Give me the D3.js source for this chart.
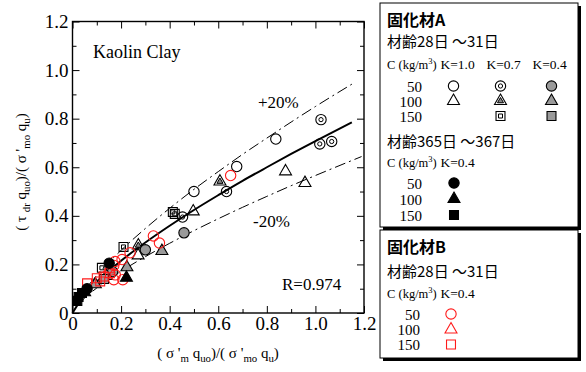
<!DOCTYPE html>
<html><head><meta charset="utf-8">
<script src="https://cdn.jsdelivr.net/npm/d3@7"></script>
<style>body{margin:0;background:#fff}svg{display:block}</style>
</head><body>
<svg id="chart" width="586" height="372"></svg>
<script>
// Normalised data: x = (σ'm quo)/(σ'mo qu), y = (τdr quo)/(σ'mo qu)
// 固化材A, 材齢28〜31日
const aK10c50  = [[0.500,0.500],[0.676,0.603],[0.837,0.716]];
const aK10c100 = [[0.497,0.418],[0.877,0.583],[0.957,0.535],[0.270,0.237]];
const aK07c50  = [[0.453,0.395],[0.634,0.500],[1.018,0.696],[1.067,0.706],[1.023,0.796]];
const aK07c100 = [[0.607,0.541],[0.271,0.278]];
const aK07c150 = [[0.421,0.408],[0.413,0.416],[0.210,0.272],[0.121,0.186]];
const aK04c50  = [[0.459,0.330],[0.300,0.260],[0.165,0.170]];
const aK04c100 = [[0.368,0.255],[0.224,0.188],[0.094,0.118],[0.140,0.152]];
const aK04c150 = [[0.130,0.140]];
// 固化材A, 材齢365〜367日, K=0.4
const lK04c50  = [[0.151,0.205],[0.060,0.100]];
const lK04c100 = [[0.222,0.145],[0.050,0.085]];
const lK04c150 = [[0.039,0.082],[0.025,0.066],[0.020,0.050]];
// 固化材B, 材齢28〜31日, K=0.4
const bK04c50  = [[0.651,0.566],[0.333,0.317],[0.358,0.288],[0.237,0.248],[0.204,0.220],
                  [0.175,0.212],[0.170,0.196],[0.176,0.157],[0.170,0.137],[0.207,0.137]];
const bK04c100 = [[0.150,0.180]];
const bK04c150 = [[0.154,0.164],[0.128,0.150],[0.114,0.130],[0.060,0.122],[0.100,0.143]];

// Regression curve and ±20% bands
const fitX   = [0, 0.05, 0.1, 0.2, 0.3, 0.4, 0.5, 0.6, 0.7, 0.8, 0.9, 1.0, 1.15];
const fitY   = [0, 0.077, 0.129, 0.215, 0.290, 0.359, 0.424, 0.485, 0.544, 0.600, 0.655, 0.708, 0.785];
const upperX = [0.02, 0.05, 0.1, 0.2, 0.3, 0.4, 0.5, 0.6, 0.7, 0.8, 0.9, 1.0, 1.15];
const upperY = [0.045, 0.092, 0.155, 0.258, 0.348, 0.431, 0.509, 0.582, 0.653, 0.720, 0.786, 0.850, 0.942];
const lowerX = [0.02, 0.05, 0.1, 0.2, 0.3, 0.4, 0.5, 0.6, 0.7, 0.8, 0.9, 1.0, 1.19];
const lowerY = [0.030, 0.062, 0.103, 0.172, 0.232, 0.287, 0.339, 0.388, 0.435, 0.480, 0.524, 0.566, 0.644];

const majorTicks = [0, 0.2, 0.4, 0.6, 0.8, 1.0, 1.2];
const minorTicks = [0.1, 0.3, 0.5, 0.7, 0.9, 1.1];
const concLabels = ["50", "100", "150"];
const kLabels = ["K=1.0", "K=0.7", "K=0.4"];

const serif = "'Liberation Serif','Times New Roman',serif";
const cjk = "'Noto Sans CJK JP','Noto Sans CJK SC',sans-serif";

const svg = d3.select("#chart");
const x = d3.scaleLinear().domain([0, 1.2]).range([72.5, 364]);
const y = d3.scaleLinear().domain([0, 1.2]).range([313, 21.5]);

// marker drawing: shape = circle|triangle|square, style = open|double|gray|black|red
const shapeType = {circle: d3.symbolCircle, triangle: d3.symbolTriangle, square: d3.symbolSquare};
const outerSize = {circle: 84, triangle: 62, square: 80};
const innerSize = {circle: 14, triangle: 16, square: 16};
function marker(g, shape, style) {
  const sym = d3.symbol().type(shapeType[shape]);
  const stroke = style === "red" ? "#ff1a1a" : "#000";
  const fill = style === "gray" ? "#9a9a9a" : style === "black" ? "#000" : "none";
  g.append("path").attr("d", sym.size(outerSize[shape])())
    .attr("fill", fill).attr("stroke", stroke).attr("stroke-width", 1.1);
  if (style === "double") {
    g.append("path").attr("d", sym.size(innerSize[shape])())
      .attr("fill", shape === "triangle" ? "#888" : "none")
      .attr("stroke", "#000").attr("stroke-width", 1);
  }
}

// axes
const fmt = d => d === 0 ? "0" : d.toFixed(1);
function styleAxis(g) {
  g.select(".domain").remove();
  g.selectAll("line").attr("stroke", "#000").attr("stroke-width", 1);
  g.selectAll("text").attr("font-family", serif).attr("font-size", 19).attr("fill", "#000");
}
const axes = [
  [d3.axisBottom(x), `translate(0,${y(0)})`, true],
  [d3.axisTop(x), `translate(0,${y(1.2)})`, false],
  [d3.axisLeft(y), `translate(${x(0)},0)`, true],
  [d3.axisRight(y), `translate(${x(1.2)},0)`, false]
];
axes.forEach(([ax, tr, labels]) => {
  svg.append("g").attr("transform", tr)
    .call(ax.tickValues(majorTicks).tickSize(-7).tickPadding(4).tickFormat(labels ? fmt : ""))
    .call(styleAxis);
  svg.append("g").attr("transform", tr)
    .call(ax.tickValues(minorTicks).tickSize(-4).tickFormat(""))
    .call(styleAxis);
});
svg.append("rect").attr("x", x(0)).attr("y", y(1.2))
  .attr("width", x(1.2) - x(0)).attr("height", y(0) - y(1.2))
  .attr("fill", "none").attr("stroke", "#000").attr("stroke-width", 1.4);

// axis titles: parts are [text, isSubscript]
function subText(sel, parts, size) {
  let low = false;
  parts.forEach(([t, sub]) => {
    const dy = sub && !low ? 4 : !sub && low ? -4 : 0;
    low = sub;
    sel.append("tspan").text(t).attr("font-size", sub ? size * 0.72 : size).attr("dy", dy);
  });
}
const titleParts = (num) => num.concat([[")/( σ '", false], ["mo", true], [" q", false], ["u", true], [")", false]]);
const xt = svg.append("text").attr("x", 218).attr("y", 358).attr("text-anchor", "middle")
  .attr("font-family", serif).attr("fill", "#000");
subText(xt, titleParts([["( σ '", false], ["m", true], [" q", false], ["uo", true]]), 15);
const yt = svg.append("text").attr("transform", "translate(26,172) rotate(-90)").attr("text-anchor", "middle")
  .attr("font-family", serif).attr("fill", "#000");
subText(yt, titleParts([["( τ ", false], ["dr", true], [" q", false], ["uo", true]]), 15);

// annotations
const ann = [["Kaolin Clay", 93, 58, 18], ["+20%", 258, 108, 17], ["-20%", 253, 227, 17], ["R=0.974", 282, 290, 17]];
ann.forEach(([t, ax, ay, fs]) => svg.append("text").text(t).attr("x", ax).attr("y", ay)
  .attr("font-family", serif).attr("font-size", fs).attr("fill", "#000"));

// curves
const lineGen = d3.line().x(d => x(d[0])).y(d => y(d[1])).curve(d3.curveMonotoneX);
const zip = (a, b) => a.map((v, i) => [v, b[i]]);
svg.append("path").attr("d", lineGen(zip(upperX, upperY))).attr("fill", "none")
  .attr("stroke", "#000").attr("stroke-width", 1).attr("stroke-dasharray", "11,4,2,4");
svg.append("path").attr("d", lineGen(zip(lowerX, lowerY))).attr("fill", "none")
  .attr("stroke", "#000").attr("stroke-width", 1).attr("stroke-dasharray", "11,4,2,4");
svg.append("path").attr("d", lineGen(zip(fitX, fitY))).attr("fill", "none")
  .attr("stroke", "#000").attr("stroke-width", 2);

// points
const series = [
  [aK10c50, "circle", "open"], [aK10c100, "triangle", "open"],
  [aK07c50, "circle", "double"], [aK07c100, "triangle", "double"], [aK07c150, "square", "double"],
  [aK04c50, "circle", "gray"], [aK04c100, "triangle", "gray"], [aK04c150, "square", "gray"],
  [bK04c50, "circle", "red"], [bK04c100, "triangle", "red"], [bK04c150, "square", "red"],
  [lK04c50, "circle", "black"], [lK04c100, "triangle", "black"], [lK04c150, "square", "black"]
];
const pts = svg.append("g");
series.forEach(([data, shape, style]) => {
  data.forEach(d => marker(pts.append("g").attr("transform", `translate(${x(d[0])},${y(d[1])})`), shape, style));
});

// legend boxes
function box(x0, y0, w, h) {
  svg.append("rect").attr("x", x0 + 3).attr("y", y0 + 3).attr("width", w).attr("height", h).attr("fill", "#000");
  svg.append("rect").attr("x", x0).attr("y", y0).attr("width", w).attr("height", h)
    .attr("fill", "#fff").attr("stroke", "#000").attr("stroke-width", 1);
}
function txt(t, tx, ty, fs, fam, opts = {}) {
  return svg.append("text").text(t).attr("x", tx).attr("y", ty).attr("font-size", fs)
    .attr("font-family", fam).attr("fill", "#000")
    .attr("font-weight", opts.bold ? "bold" : null).attr("text-anchor", opts.anchor || null);
}
function unitHeader(tx, ty) {
  const t = svg.append("text").attr("x", tx).attr("y", ty).attr("font-family", serif).attr("fill", "#000");
  t.append("tspan").text("C (kg/m").attr("font-size", 12.5);
  t.append("tspan").text("3").attr("font-size", 8.5).attr("dy", -5);
  t.append("tspan").text(")").attr("font-size", 12.5).attr("dy", 5);
  return t;
}
function legendMarker(lx, ly, shape, style) {
  marker(svg.append("g").attr("transform", `translate(${lx},${ly})`), shape, style);
}

box(380, 3, 198, 224);
txt("固化材A", 387, 26, 16, cjk, {bold: true});
txt("材齢28日 ～31日", 387, 47, 15, cjk);
unitHeader(387, 69);
const kx = [440.5, 486.5, 532.5];
kLabels.forEach((k, i) => txt(k, kx[i], 69, 13.5, serif));
const rowY1 = [86, 101, 116];
concLabels.forEach((c, i) => txt(c, 422, rowY1[i] + 5.5, 15, serif, {anchor: "end"}));
const colX = [453.5, 500.5, 551.5];
legendMarker(colX[0], rowY1[0], "circle", "open");
legendMarker(colX[0], rowY1[1], "triangle", "open");
legendMarker(colX[1], rowY1[0], "circle", "double");
legendMarker(colX[1], rowY1[1], "triangle", "double");
legendMarker(colX[1], rowY1[2], "square", "double");
legendMarker(colX[2], rowY1[0], "circle", "gray");
legendMarker(colX[2], rowY1[1], "triangle", "gray");
legendMarker(colX[2], rowY1[2], "square", "gray");
txt("材齢365日 ～367日", 387, 147, 15, cjk);
unitHeader(387, 167);
txt("K=0.4", 440.5, 167, 13.5, serif);
const rowY2 = [183, 199, 215];
concLabels.forEach((c, i) => txt(c, 422, rowY2[i] + 5.5, 15, serif, {anchor: "end"}));
["circle", "triangle", "square"].forEach((s, i) => legendMarker(454, rowY2[i], s, "black"));

box(380, 230, 198, 128);
txt("固化材B", 387, 253, 16, cjk, {bold: true});
txt("材齢28日 ～31日", 387, 277, 15, cjk);
unitHeader(387, 298);
txt("K=0.4", 440.5, 298, 13.5, serif);
const rowY3 = [314, 329.5, 344.5];
concLabels.forEach((c, i) => txt(c, 420, rowY3[i] + 5.5, 15, serif, {anchor: "end"}));
["circle", "triangle", "square"].forEach((s, i) => legendMarker(451, rowY3[i], s, "red"));
</script>
</body></html>
